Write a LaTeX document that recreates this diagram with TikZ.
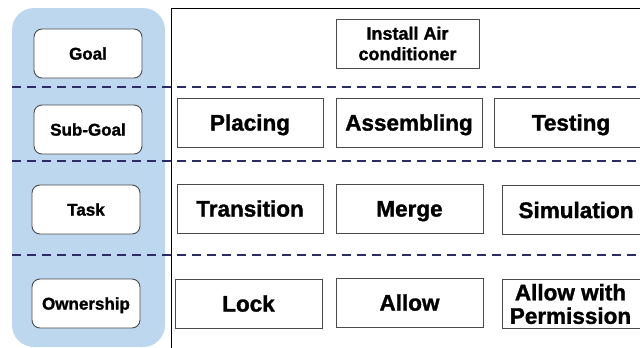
\documentclass[tikz,border=0pt]{standalone}
\usepackage{fontspec}
\setmainfont{Liberation Sans}[BoldFeatures={FakeBold=1.4}]
\definecolor{panelblue}{HTML}{BDD7EE}
\definecolor{navy}{HTML}{2B2B66}
\definecolor{edge}{HTML}{4A4A4A}
\begin{document}
\begin{tikzpicture}[x=1pt,y=-1pt,
  levelbox/.style={draw=edge,line width=0.9pt,fill=white,rounded corners=8pt,
    minimum width=108pt,minimum height=49pt,inner sep=0pt,
    text height=12.2pt,text depth=0pt,
    font=\bfseries\fontsize{17}{18}\selectfont},
  itembox/.style={draw=edge,line width=0.9pt,fill=white,
    minimum height=49pt,inner sep=0pt,
    text height=16.1pt,text depth=0pt,
    font=\bfseries\fontsize{22.5}{23.5}\selectfont},
  bigtxt/.style={inner sep=0pt,text height=16.1pt,text depth=0pt,
    font=\bfseries\fontsize{22.5}{23.5}\selectfont},
  twoline/.style={align=center,inner sep=0pt},
  sep/.style={draw=navy,line width=2pt,dash pattern=on 9pt off 6pt},
  frame/.style={draw=black,line width=0.9pt}]
\useasboundingbox (0,0) rectangle (640,348);

% level column
\fill[panelblue,rounded corners=22pt] (12,8) rectangle (165,347);

% frame of the decomposition area
\coordinate (ftop) at (171,8);
\coordinate (fbot) at (171,350);
\coordinate (fright) at (645,8);
\draw[frame] (fbot) -- (ftop) -- (fright);

% level separators
\foreach \yy in {87,161,255}
  \draw[sep] (12,\yy) -- (645,\yy);

% level names
\node[levelbox] (goal) at (88,53.5) {Goal};
\node[levelbox] (subgoal) at (88,129.5) {Sub-Goal};
\node[levelbox] (task) at (86,209.5) {Task};
\node[levelbox] (owner) at (86,303.5) {Ownership};

% goal
\node[itembox,minimum width=143pt] (install) at (407.5,43.5) {};
\node[twoline,font=\bfseries\fontsize{18}{20.5}\selectfont]
  (installtxt) at (407.5,43.5) {Install Air\\conditioner};

% sub-goals
\node[itembox,minimum width=146pt] (placing) at (250,122.5) {Placing};
\node[itembox,minimum width=146pt] (assemb) at (409,122.5) {Assembling};
\node[itembox,minimum width=160pt,anchor=west] (testing) at (494,122.5) {};
\node[bigtxt] (testingtxt) at (571,122.5) {Testing};

% tasks
\node[itembox,minimum width=146pt] (transition) at (250,208.5) {Transition};
\node[itembox,minimum width=147pt] (merge) at (409.5,208.5) {Merge};
\node[itembox,minimum width=160pt,anchor=west] (simul) at (502,210) {};
\node[bigtxt] (simultxt) at (576,210) {Simulation};

% ownership
\node[itembox,minimum width=147pt] (lock) at (248.5,303.5) {Lock};
\node[itembox,minimum width=147pt] (allow) at (409.5,302.5) {Allow};
\node[itembox,minimum width=160pt,anchor=west] (perm) at (502,304) {};
\node[twoline,font=\bfseries\fontsize{22.5}{23.5}\selectfont]
  (permtxt) at (570.5,304) {Allow with\\Permission};
\end{tikzpicture}
\end{document}
